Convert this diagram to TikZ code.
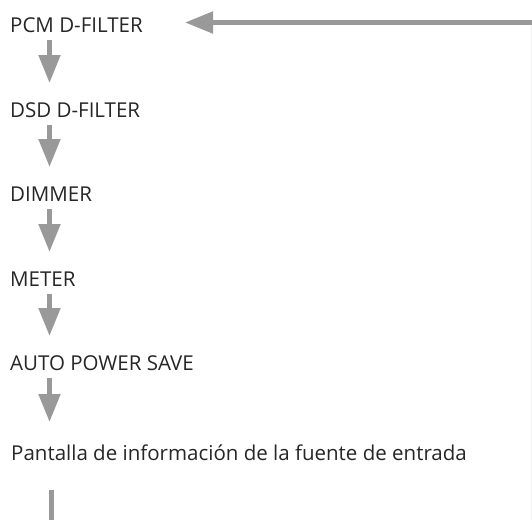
\documentclass[tikz,border=0pt]{standalone}
\usepackage{fontspec}
\setmainfont{Open Sans}
\usetikzlibrary{arrows.meta,positioning,calc}

\begin{document}
\begin{tikzpicture}[
    x=1pt, y=1pt,
    every node/.style={font=\fontsize{20.5}{24}\selectfont, text=black!85, inner sep=0pt},
    menuitem/.style={anchor=base west},
    flowarrow/.style={-{Triangle[width=21pt,length=28pt]}, line width=5pt, color=black!40},
    flowline/.style={line width=5pt, color=black!40},
]
\useasboundingbox (0,0) rectangle (532,-520);

% -------- menu items --------
\node[menuitem] (pcm)   at (10,-32)  {PCM D-FILTER};
\node[menuitem] (dsd)   at (10,-117) {DSD D-FILTER};
\node[menuitem] (dim)   at (10,-201) {DIMMER};
\node[menuitem] (meter) at (10,-286) {METER};
\node[menuitem] (aps)   at (10,-370) {AUTO POWER SAVE};
\node[menuitem] (info)  at (11,-460) {Pantalla de información de la fuente de entrada};

% -------- downward arrows --------
\foreach \a/\b in {pcm/dsd, dsd/dim, dim/meter, meter/aps}{
  \draw[flowarrow] ($(\a.base west)+(39.5,-7.5)$) -- ($(\b.base west)+(39.5,34)$);
}
\draw[flowarrow] ($(aps.base west)+(39.5,-7.5)$) -- ($(info.base west)+(38.5,38)$);

% -------- return loop --------
\coordinate (loopbot) at (51,-520);
\coordinate (loopin)  at (532,-22.5);
\coordinate (looptip) at (185,-22.5);
\draw[flowline] ($(info.base west)+(40,-30)$) -- (loopbot);
\draw[flowarrow] (loopin) -- (looptip);
\draw[black!6, line width=1pt] (531.5,-25) -- (531.5,-520);

\end{tikzpicture}
\end{document}
